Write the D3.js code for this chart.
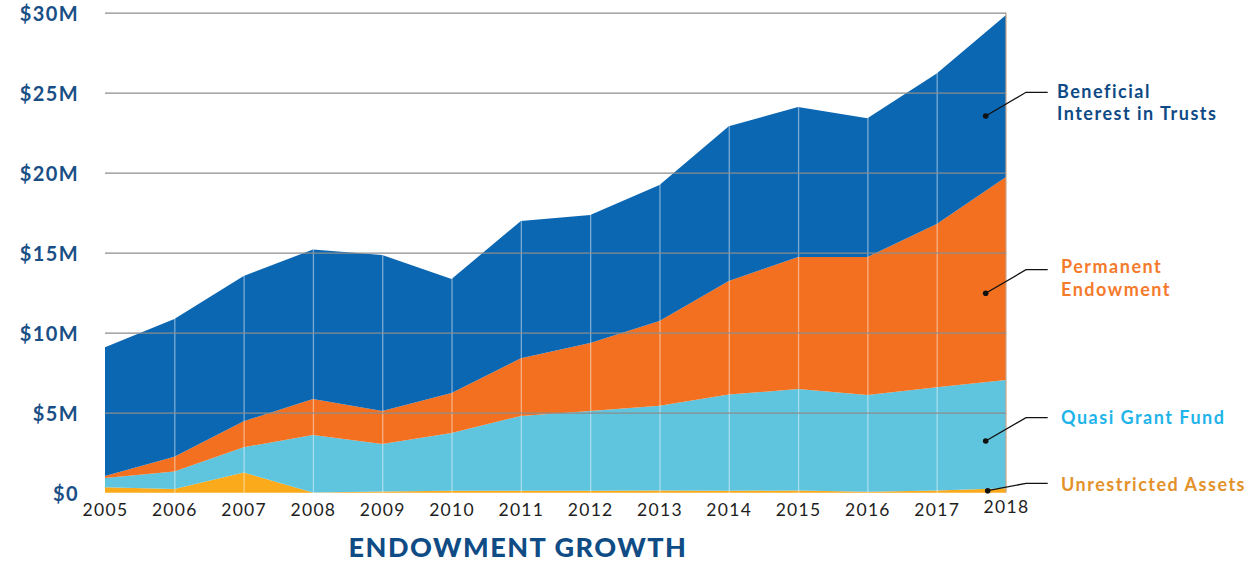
<!DOCTYPE html>
<html>
<head>
<meta charset="utf-8">
<script src="https://d3js.org/d3.v7.min.js"></script>
<style>
  body { margin: 0; background: #fff; }
  svg { display: block; font-family: Lato, "Open Sans", sans-serif; }
</style>
</head>
<body>
<div id="chart"></div>
<script>
// values in $M
var years = [2005, 2006, 2007, 2008, 2009, 2010, 2011, 2012, 2013, 2014, 2015, 2016, 2017, 2018];
var unrestricted = [0.34, 0.23, 1.27, 0.02, 0.08, 0.12, 0.12, 0.12, 0.14, 0.12, 0.14, 0.06, 0.14, 0.28];
var quasiGrant   = [0.58, 1.10, 1.57, 3.58, 2.96, 3.61, 4.68, 4.98, 5.30, 6.01, 6.34, 6.04, 6.45, 6.76];
var permanent    = [0.12, 0.92, 1.62, 2.26, 2.06, 2.50, 3.60, 4.26, 5.29, 7.10, 8.25, 8.63, 10.21, 12.69];
var beneficial   = [8.05, 8.61, 9.08, 9.34, 9.76, 7.13, 8.58, 8.00, 8.50, 9.67, 9.37, 8.67, 9.40, 10.13];
var yTicks = [0, 5, 10, 15, 20, 25, 30];

var seriesKeys = ["unrestricted", "quasi", "permanent", "beneficial"];
var seriesInfo = {
  unrestricted: {fill: "#fbaa1b", label: ["Unrestricted Assets"], color: "#e3922b"},
  quasi:        {fill: "#5fc4de", label: ["Quasi Grant Fund"], color: "#1fb4e9"},
  permanent:    {fill: "#f37021", label: ["Permanent", "Endowment"], color: "#f47a2c"},
  beneficial:   {fill: "#0b67b2", label: ["Beneficial", "Interest in Trusts"], color: "#0e4a85"}
};

var table = years.map(function(y, i) {
  return {year: y, unrestricted: unrestricted[i], quasi: quasiGrant[i],
          permanent: permanent[i], beneficial: beneficial[i]};
});

var width = 1249, height = 566;
var svg = d3.select("#chart").append("svg")
  .attr("width", width)
  .attr("height", height);

var x = d3.scaleLinear().domain([2005, 2018]).range([105, 1006]);
var y = d3.scaleLinear().domain([0, 30]).range([492.7, 12.7]);

var stacked = d3.stack().keys(seriesKeys)(table);

var area = d3.area()
  .x(function(d) { return x(d.data.year); })
  .y0(function(d) { return y(d[0]); })
  .y1(function(d) { return y(d[1]); });

svg.append("g").selectAll("path")
  .data(stacked)
  .join("path")
  .attr("d", area)
  .attr("fill", function(d) { return seriesInfo[d.key].fill; });

// vertical grid (light, over the areas)
svg.append("g")
  .attr("transform", "translate(0," + y(0) + ")")
  .call(d3.axisBottom(x).tickValues(years.slice(1, -1)).tickSize(-(y(0) - y(30))).tickFormat(""))
  .call(function(g) { g.select(".domain").remove(); })
  .selectAll("line")
  .attr("stroke", "#ffffff")
  .attr("stroke-opacity", 0.45)
  .attr("stroke-width", 1.3);

// right edge
svg.append("line")
  .attr("x1", x(2018)).attr("x2", x(2018))
  .attr("y1", y(30)).attr("y2", y(0))
  .attr("stroke", "#c9a48a").attr("stroke-width", 1.2);

// horizontal grid
svg.append("g")
  .attr("transform", "translate(" + x(2005) + ",0)")
  .call(d3.axisLeft(y).tickValues(yTicks.slice(1)).tickSize(-(x(2018) - x(2005))).tickFormat(""))
  .call(function(g) { g.select(".domain").remove(); })
  .selectAll("line")
  .attr("stroke", "#8c8c8c")
  .attr("stroke-width", 1.3);

// y labels
var yAxis = svg.append("g")
  .attr("transform", "translate(79,0)")
  .call(d3.axisLeft(y).tickValues(yTicks).tickSize(0).tickPadding(0)
    .tickFormat(function(d) { return "$" + d + (d === 0 ? "" : "M"); }));
yAxis.select(".domain").remove();
yAxis.selectAll("text")
  .attr("font-family", "Lato, sans-serif")
  .attr("font-size", 20)
  .attr("font-weight", 700)
  .attr("letter-spacing", 1.4)
  .attr("fill", "#1a4f86")
  .attr("dy", "0.35em")
  .attr("y", 1);

// x labels
var xAxis = svg.append("g")
  .attr("transform", "translate(0," + y(0) + ")")
  .call(d3.axisBottom(x).tickValues(years).tickSize(0).tickPadding(0).tickFormat(d3.format("d")));
xAxis.select(".domain").remove();
xAxis.selectAll("text")
  .attr("font-family", "Lato, sans-serif")
  .attr("font-size", 17.5)
  .attr("letter-spacing", 1.3)
  .attr("fill", "#1e1e1e")
  .attr("dy", 0)
  .attr("y", function(d) { return d === 2018 ? 20 : 23.5; });

// callouts
var callouts = [
  {key: "beneficial", dot: [985.7, 116], elbow: [1026, 92.3], tx: 1057, ty: 97.7},
  {key: "permanent", dot: [985.7, 293.3], elbow: [1026, 269.7], tx: 1061, ty: 273.3},
  {key: "quasi", dot: [985.7, 441], elbow: [1026, 417.7], tx: 1061, ty: 424.3},
  {key: "unrestricted", dot: [987.7, 490.7], elbow: [1026, 483.3], tx: 1061, ty: 490.7}
];

var co = svg.append("g").selectAll("g").data(callouts).join("g");
co.append("path")
  .attr("d", function(d) {
    return "M" + d.dot[0] + "," + d.dot[1] + "L" + d.elbow[0] + "," + d.elbow[1] + "H1047.7";
  })
  .attr("fill", "none")
  .attr("stroke", "#111")
  .attr("stroke-width", 1.3);
co.append("circle")
  .attr("cx", function(d) { return d.dot[0]; })
  .attr("cy", function(d) { return d.dot[1]; })
  .attr("r", 2.8)
  .attr("fill", "#111");
co.each(function(d) {
  var info = seriesInfo[d.key];
  d3.select(this).selectAll("text")
    .data(info.label)
    .join("text")
    .attr("x", d.tx)
    .attr("y", function(t, i) { return d.ty + i * 22.5; })
    .attr("font-size", 18)
    .attr("font-weight", 700)
    .attr("letter-spacing", 1.5)
    .attr("fill", info.color)
    .text(function(t) { return t; });
});

// title
svg.append("text")
  .attr("x", 518)
  .attr("y", 557.3)
  .attr("text-anchor", "middle")
  .attr("font-size", 27)
  .attr("font-weight", 900)
  .attr("letter-spacing", 1.5)
  .attr("fill", "#0f4c85")
  .text("ENDOWMENT GROWTH");
</script>
</body>
</html>
